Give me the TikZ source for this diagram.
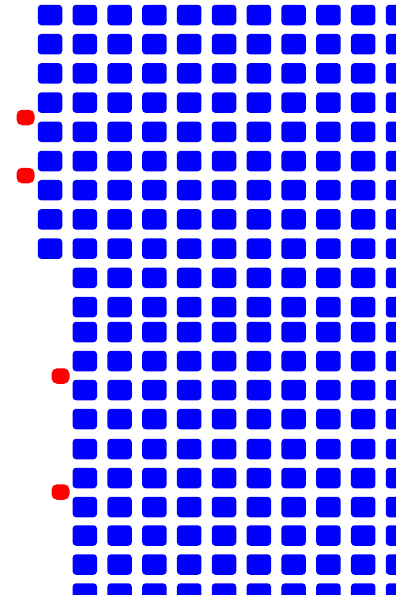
\documentclass[tikz,border=0pt]{standalone}
\usepackage{tikz}

\begin{document}
\begin{tikzpicture}[
  x=1pt, y=-1pt,
  site/.style={fill=blue, rounded corners=3.5pt, minimum width=24.5pt,
               minimum height=20.5pt, inner sep=0pt},
  defect/.style={fill=red, rounded corners=5.5pt, minimum width=18pt,
                 minimum height=15.5pt, inner sep=0pt},
  ]
  \useasboundingbox (0,0) rectangle (396,595);

  % full rows, columns 1..10
  \foreach \y [count=\r] in {15,44.2,73.4,102.6,131.8,161,190.2,219.4,248.6,277.8,307,
                             332,361,390,419,449,478,507,535.5,564.5,593.5}
    \foreach \c in {1,...,10}
      \node[site] (site-\c-\r) at ({50+34.8*\c},\y) {};

  % left column, upper part only
  \foreach \y [count=\r] in {15,44.2,73.4,102.6,131.8,161,190.2,219.4,248.6}
    \node[site] (site-0-\r) at (50,\y) {};

  \node[defect] (defect-a) at (25.5,117.5) {};
  \node[defect] (defect-b) at (25.5,175.5) {};
  \node[defect] (defect-c) at (60.5,376) {};
  \node[defect] (defect-d) at (60.5,492) {};
\end{tikzpicture}
\end{document}
